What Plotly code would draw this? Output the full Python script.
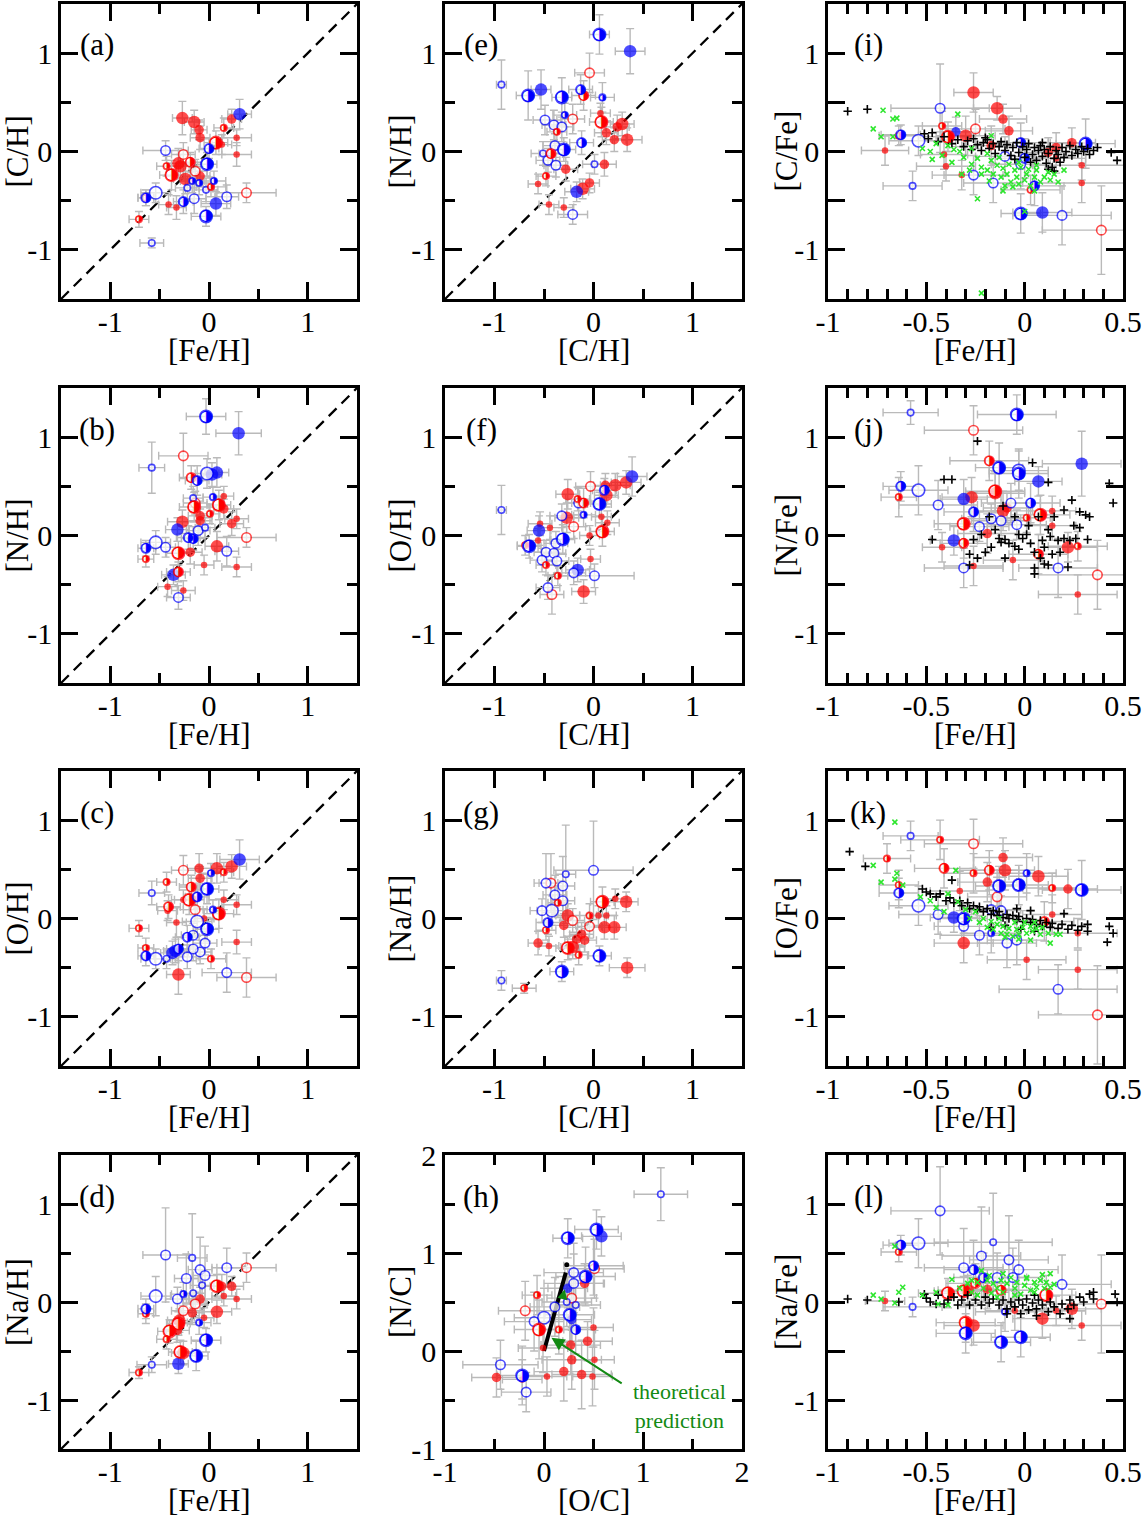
import plotly.graph_objects as go

# ---------------- data: (x, y, err_x, err_y, group, size-class) ----------------
# groups: R*/B* = red/blue sample; *F filled, *O open, *H half-filled
PANEL_A = [
    (0.31, 0.38, 0.12, 0.15, 'BF', 3), (-0.27, 0.34, 0.10, 0.17, 'RF', 3), (-0.15, 0.30, 0.10, 0.12, 'RF', 3),
    (-0.10, 0.22, 0.08, 0.10, 'RF', 2), (0.23, 0.33, 0.10, 0.10, 'RF', 2), (0.15, 0.24, 0.10, 0.10, 'RH', 1),
    (-0.09, 0.14, 0.10, 0.12, 'RF', 2), (0.07, 0.09, 0.12, 0.12, 'RH', 3), (0.13, 0.07, 0.10, 0.10, 'RF', 1),
    (0.28, 0.14, 0.15, 0.08, 'RF', 1), (0.00, 0.03, 0.10, 0.10, 'BH', 2), (-0.44, 0.01, 0.23, 0.10, 'BO', 2),
    (-0.26, -0.03, 0.12, 0.12, 'RO', 2), (0.28, -0.03, 0.15, 0.12, 'RF', 1), (-0.31, -0.12, 0.12, 0.15, 'RF', 3),
    (-0.29, -0.15, 0.12, 0.12, 'RF', 3), (-0.19, -0.11, 0.12, 0.10, 'RH', 2), (-0.02, -0.13, 0.10, 0.12, 'BH', 3),
    (-0.43, -0.15, 0.10, 0.10, 'RH', 1), (-0.38, -0.24, 0.12, 0.15, 'RH', 3), (-0.14, -0.20, 0.12, 0.12, 'RO', 2),
    (-0.09, -0.25, 0.10, 0.10, 'RF', 2), (-0.24, -0.28, 0.12, 0.15, 'RF', 3), (-0.17, -0.30, 0.12, 0.12, 'BH', 1),
    (-0.22, -0.37, 0.12, 0.12, 'BO', 1), (-0.10, -0.32, 0.12, 0.12, 'BH', 1), (-0.03, -0.39, 0.12, 0.12, 'BO', 1),
    (0.05, -0.30, 0.12, 0.10, 'BH', 1), (0.02, -0.36, 0.15, 0.10, 'RH', 1), (-0.54, -0.42, 0.15, 0.10, 'BO', 3),
    (-0.64, -0.47, 0.08, 0.08, 'BH', 2), (-0.64, -0.47, 0.08, 0.08, 'RH', 1), (-0.26, -0.51, 0.10, 0.12, 'BH', 2),
    (-0.15, -0.48, 0.12, 0.15, 'BO', 2), (-0.41, -0.54, 0.10, 0.10, 'RF', 1), (-0.33, -0.57, 0.10, 0.12, 'RF', 1),
    (0.07, -0.53, 0.15, 0.12, 'BF', 3), (0.18, -0.46, 0.12, 0.12, 'BO', 2), (0.38, -0.42, 0.30, 0.10, 'RO', 2),
    (-0.03, -0.66, 0.15, 0.10, 'BH', 3), (-0.71, -0.69, 0.10, 0.08, 'RH', 1), (-0.58, -0.93, 0.12, 0.05, 'BO', 1),
]
PANEL_B = [
    (-0.03, 1.21, 0.20, 0.18, 'BH', 3), (0.30, 1.04, 0.23, 0.22, 'BF', 3), (-0.26, 0.81, 0.25, 0.23, 'RO', 2),
    (-0.58, 0.69, 0.13, 0.26, 'BO', 1), (0.08, 0.64, 0.12, 0.15, 'BF', 3), (-0.02, 0.63, 0.12, 0.15, 'BO', 3),
    (0.03, 0.62, 0.10, 0.12, 'BF', 3), (-0.12, 0.56, 0.12, 0.15, 'BH', 2), (-0.18, 0.59, 0.12, 0.12, 'RH', 2),
    (0.04, 0.39, 0.10, 0.10, 'BH', 1), (0.15, 0.40, 0.10, 0.10, 'RF', 1), (-0.16, 0.38, 0.10, 0.12, 'BO', 1),
    (-0.14, 0.33, 0.12, 0.12, 'RO', 2), (-0.15, 0.29, 0.15, 0.15, 'RH', 3), (0.10, 0.31, 0.12, 0.15, 'RH', 3),
    (0.15, 0.27, 0.10, 0.10, 'RF', 2), (-0.09, 0.20, 0.12, 0.15, 'RF', 2), (0.01, 0.22, 0.10, 0.10, 'RH', 1),
    (-0.09, 0.15, 0.12, 0.12, 'RF', 2), (-0.27, 0.14, 0.15, 0.12, 'RF', 3), (0.23, 0.12, 0.12, 0.12, 'RF', 2),
    (0.28, 0.17, 0.12, 0.10, 'RF', 1), (-0.32, 0.06, 0.12, 0.12, 'BF', 3), (-0.11, 0.05, 0.12, 0.15, 'BO', 2),
    (-0.04, 0.08, 0.10, 0.10, 'BO', 1), (-0.21, -0.02, 0.12, 0.12, 'BH', 2), (-0.16, -0.03, 0.12, 0.12, 'BH', 2),
    (0.38, -0.02, 0.30, 0.10, 'RO', 2), (-0.54, -0.07, 0.15, 0.12, 'BO', 3), (-0.44, -0.12, 0.10, 0.10, 'BO', 2),
    (-0.64, -0.13, 0.08, 0.08, 'BH', 2), (0.08, -0.11, 0.12, 0.15, 'RF', 3), (0.18, -0.16, 0.12, 0.15, 'BO', 2),
    (-0.31, -0.18, 0.12, 0.12, 'RH', 3), (-0.19, -0.17, 0.12, 0.12, 'RF', 2), (-0.64, -0.24, 0.08, 0.08, 'RH', 1),
    (-0.05, -0.30, 0.10, 0.10, 'RF', 1), (0.28, -0.32, 0.15, 0.10, 'RF', 1), (-0.31, -0.37, 0.12, 0.10, 'RH', 2),
    (-0.36, -0.40, 0.12, 0.10, 'BF', 3), (-0.42, -0.52, 0.10, 0.10, 'RF', 1), (-0.26, -0.56, 0.12, 0.10, 'RF', 1),
    (-0.31, -0.63, 0.12, 0.12, 'BO', 2),
]
PANEL_C = [
    (0.31, 0.60, 0.20, 0.20, 'BF', 3), (0.23, 0.53, 0.15, 0.12, 'RF', 3), (0.08, 0.51, 0.15, 0.15, 'RF', 3),
    (-0.10, 0.51, 0.12, 0.15, 'RF', 2), (-0.26, 0.49, 0.12, 0.15, 'RO', 2), (0.02, 0.46, 0.10, 0.10, 'BH', 1),
    (0.15, 0.47, 0.10, 0.10, 'RH', 1), (-0.09, 0.41, 0.12, 0.12, 'RF', 2), (-0.43, 0.37, 0.10, 0.10, 'RH', 1),
    (-0.18, 0.32, 0.12, 0.12, 'RH', 2), (-0.02, 0.30, 0.12, 0.15, 'BH', 3), (-0.58, 0.26, 0.13, 0.12, 'BO', 1),
    (-0.12, 0.22, 0.12, 0.12, 'BH', 2), (-0.26, 0.19, 0.12, 0.10, 'RF', 1), (-0.20, 0.19, 0.15, 0.15, 'RH', 3),
    (0.15, 0.19, 0.15, 0.10, 'RF', 1), (0.28, 0.14, 0.15, 0.10, 'RF', 1), (-0.41, 0.12, 0.12, 0.12, 'RH', 2),
    (-0.42, 0.08, 0.10, 0.10, 'RF', 1), (-0.14, 0.09, 0.12, 0.12, 'RO', 2), (0.04, 0.09, 0.10, 0.10, 'BH', 1),
    (0.10, 0.05, 0.15, 0.15, 'RH', 3), (-0.05, 0.00, 0.10, 0.10, 'RF', 1), (-0.12, -0.03, 0.15, 0.15, 'BO', 3),
    (-0.33, -0.04, 0.10, 0.15, 'RF', 1), (-0.71, -0.10, 0.10, 0.08, 'RH', 1), (-0.02, -0.11, 0.12, 0.12, 'BH', 3),
    (-0.22, -0.19, 0.12, 0.12, 'BH', 2), (-0.16, -0.17, 0.12, 0.12, 'BO', 2), (0.28, -0.24, 0.15, 0.12, 'RF', 1),
    (-0.04, -0.25, 0.12, 0.12, 'BO', 2), (-0.64, -0.30, 0.08, 0.10, 'RH', 1), (-0.34, -0.33, 0.12, 0.12, 'BF', 3),
    (-0.37, -0.35, 0.12, 0.12, 'BF', 3), (-0.31, -0.31, 0.12, 0.12, 'BH', 2), (-0.09, -0.34, 0.12, 0.12, 'BO', 2),
    (-0.16, -0.31, 0.12, 0.12, 'BO', 2), (-0.54, -0.41, 0.15, 0.10, 'BO', 3), (-0.64, -0.38, 0.08, 0.10, 'BH', 2),
    (-0.22, -0.39, 0.12, 0.12, 'BO', 2), (-0.43, -0.41, 0.12, 0.10, 'BO', 1), (0.02, -0.41, 0.15, 0.10, 'RH', 1),
    (0.18, -0.55, 0.25, 0.20, 'BO', 2), (-0.31, -0.57, 0.12, 0.20, 'RF', 3), (0.38, -0.60, 0.30, 0.20, 'RO', 2),
]
PANEL_D = [
    (-0.44, 0.48, 0.23, 0.48, 'BO', 2), (-0.17, 0.45, 0.15, 0.45, 'BO', 1), (0.38, 0.35, 0.30, 0.15, 'RO', 2),
    (0.18, 0.35, 0.15, 0.20, 'BO', 2), (-0.09, 0.33, 0.12, 0.33, 'BO', 2), (-0.04, 0.27, 0.12, 0.30, 'BO', 2),
    (-0.23, 0.24, 0.12, 0.25, 'BO', 2), (-0.07, 0.17, 0.12, 0.15, 'BO', 1), (0.08, 0.16, 0.15, 0.12, 'RH', 3),
    (0.13, 0.16, 0.12, 0.12, 'RF', 2), (0.23, 0.16, 0.12, 0.10, 'RF', 2), (0.15, 0.06, 0.12, 0.10, 'RF', 1),
    (0.28, 0.03, 0.15, 0.10, 'RF', 1), (-0.54, 0.06, 0.15, 0.20, 'BO', 3), (-0.32, 0.03, 0.12, 0.12, 'BO', 2),
    (-0.26, 0.08, 0.12, 0.12, 'BH', 1), (-0.16, 0.09, 0.12, 0.15, 'BO', 1), (-0.09, 0.03, 0.12, 0.12, 'RF', 2),
    (-0.14, -0.02, 0.12, 0.12, 'RO', 2), (-0.64, -0.07, 0.08, 0.10, 'BH', 2), (-0.64, -0.12, 0.08, 0.10, 'RH', 1),
    (-0.26, -0.09, 0.12, 0.12, 'RO', 2), (-0.17, -0.11, 0.12, 0.12, 'RF', 2), (0.08, -0.10, 0.15, 0.12, 'RF', 3),
    (-0.05, -0.16, 0.10, 0.10, 'RF', 1), (-0.10, -0.21, 0.12, 0.12, 'BH', 1), (-0.30, -0.19, 0.12, 0.12, 'RF', 3),
    (-0.31, -0.22, 0.12, 0.12, 'RH', 3), (-0.40, -0.30, 0.12, 0.12, 'RH', 3), (-0.32, -0.29, 0.12, 0.12, 'RF', 2),
    (-0.43, -0.38, 0.10, 0.10, 'RH', 1), (-0.03, -0.39, 0.15, 0.12, 'BH', 3), (-0.29, -0.51, 0.12, 0.12, 'RH', 3),
    (-0.26, -0.52, 0.12, 0.12, 'RF', 3), (-0.13, -0.55, 0.12, 0.15, 'BH', 3), (-0.31, -0.63, 0.10, 0.10, 'BF', 3),
    (-0.58, -0.64, 0.15, 0.08, 'BO', 1), (-0.71, -0.72, 0.10, 0.06, 'RH', 1),
]
PANEL_E = [
    (0.06, 1.19, 0.10, 0.20, 'BH', 3), (0.37, 1.02, 0.15, 0.23, 'BF', 3), (-0.04, 0.80, 0.15, 0.20, 'RO', 2),
    (-0.93, 0.68, 0.05, 0.25, 'BO', 1), (-0.66, 0.57, 0.12, 0.25, 'BH', 3), (-0.53, 0.63, 0.10, 0.20, 'BF', 3),
    (-0.32, 0.55, 0.10, 0.20, 'BH', 3), (-0.13, 0.63, 0.12, 0.15, 'BH', 2), (-0.10, 0.57, 0.12, 0.15, 'RH', 2),
    (0.09, 0.55, 0.12, 0.15, 'BH', 1), (-0.29, 0.37, 0.12, 0.12, 'BH', 1), (-0.49, 0.32, 0.12, 0.15, 'BO', 2),
    (-0.40, 0.27, 0.12, 0.15, 'BO', 2), (-0.32, 0.25, 0.12, 0.15, 'BO', 2), (-0.21, 0.33, 0.12, 0.15, 'RO', 2),
    (0.07, 0.39, 0.10, 0.10, 'RF', 1), (0.08, 0.30, 0.12, 0.15, 'RH', 3), (0.29, 0.28, 0.12, 0.12, 'RF', 3),
    (0.24, 0.25, 0.12, 0.12, 'RF', 2), (0.13, 0.19, 0.12, 0.12, 'RF', 2), (0.21, 0.12, 0.12, 0.12, 'RF', 2),
    (0.34, 0.12, 0.15, 0.12, 'RF', 3), (-0.37, 0.20, 0.10, 0.12, 'RH', 1), (-0.12, 0.09, 0.12, 0.12, 'BH', 2),
    (-0.39, 0.06, 0.12, 0.12, 'BO', 2), (-0.30, 0.02, 0.12, 0.12, 'BH', 3), (-0.51, -0.02, 0.12, 0.12, 'BO', 1),
    (-0.43, -0.02, 0.12, 0.12, 'RH', 2), (-0.46, -0.09, 0.12, 0.12, 'BO', 2), (-0.38, -0.14, 0.12, 0.12, 'BO', 2),
    (0.01, -0.13, 0.12, 0.10, 'BO', 1), (0.11, -0.13, 0.12, 0.12, 'RF', 2), (-0.28, -0.18, 0.12, 0.12, 'RF', 2),
    (-0.48, -0.25, 0.10, 0.10, 'RH', 1), (-0.56, -0.33, 0.10, 0.10, 'RF', 1), (-0.04, -0.32, 0.10, 0.10, 'RF', 2),
    (-0.11, -0.38, 0.12, 0.10, 'RF', 3), (-0.17, -0.41, 0.12, 0.10, 'BF', 3), (-0.45, -0.54, 0.10, 0.10, 'RF', 1),
    (-0.30, -0.57, 0.10, 0.10, 'RF', 1), (-0.21, -0.64, 0.15, 0.10, 'BO', 2),
]
PANEL_F = [
    (0.39, 0.60, 0.15, 0.20, 'BF', 3), (0.33, 0.54, 0.15, 0.12, 'RF', 3), (0.22, 0.51, 0.15, 0.12, 'RF', 3),
    (0.12, 0.51, 0.12, 0.12, 'RF', 2), (-0.03, 0.50, 0.15, 0.15, 'RO', 2), (0.11, 0.46, 0.12, 0.12, 'BH', 2),
    (-0.26, 0.42, 0.12, 0.15, 'RF', 3), (0.13, 0.41, 0.12, 0.12, 'RF', 3), (-0.10, 0.33, 0.12, 0.15, 'RH', 2),
    (-0.16, 0.37, 0.12, 0.12, 'RH', 1), (-0.15, 0.33, 0.12, 0.15, 'BO', 2), (0.06, 0.32, 0.12, 0.12, 'BH', 3),
    (-0.10, 0.21, 0.12, 0.12, 'BH', 1), (-0.32, 0.20, 0.12, 0.12, 'BO', 2), (-0.27, 0.18, 0.12, 0.15, 'RF', 3),
    (0.08, 0.19, 0.10, 0.12, 'RF', 1), (-0.54, 0.12, 0.12, 0.12, 'RF', 1), (-0.44, 0.08, 0.12, 0.12, 'RF', 1),
    (-0.20, 0.09, 0.12, 0.12, 'RO', 2), (0.14, 0.13, 0.12, 0.12, 'RF', 1), (-0.55, 0.05, 0.12, 0.15, 'BF', 3),
    (0.09, 0.04, 0.12, 0.15, 'RH', 3), (-0.04, 0.00, 0.10, 0.10, 'RF', 1), (-0.31, -0.04, 0.12, 0.15, 'BH', 3),
    (-0.56, -0.05, 0.12, 0.12, 'RF', 1), (-0.38, -0.08, 0.12, 0.12, 'BO', 2), (-0.65, -0.11, 0.12, 0.12, 'BH', 3),
    (-0.69, -0.10, 0.08, 0.10, 'RH', 1), (-0.48, -0.17, 0.12, 0.12, 'BO', 2), (-0.40, -0.18, 0.12, 0.12, 'BO', 2),
    (-0.52, -0.25, 0.12, 0.12, 'BO', 2), (-0.37, -0.26, 0.12, 0.12, 'BO', 2), (-0.03, -0.24, 0.10, 0.10, 'RF', 1),
    (-0.48, -0.30, 0.10, 0.10, 'RH', 1), (-0.16, -0.35, 0.12, 0.12, 'BF', 3), (-0.20, -0.38, 0.12, 0.12, 'BO', 2),
    (0.01, -0.41, 0.40, 0.12, 'BO', 2), (-0.36, -0.41, 0.10, 0.10, 'RH', 1), (-0.46, -0.53, 0.12, 0.12, 'BO', 2),
    (-0.10, -0.57, 0.12, 0.12, 'RF', 3), (-0.42, -0.60, 0.12, 0.20, 'RO', 2), (-0.93, 0.26, 0.05, 0.25, 'BO', 1),
]
PANEL_G = [
    (0.00, 0.49, 0.40, 0.50, 'BO', 2), (-0.28, 0.45, 0.10, 0.50, 'BO', 1), (-0.48, 0.36, 0.12, 0.30, 'BO', 2),
    (-0.43, 0.36, 0.12, 0.30, 'RO', 2), (-0.31, 0.33, 0.12, 0.30, 'BO', 2), (-0.39, 0.24, 0.12, 0.20, 'BO', 2),
    (-0.31, 0.18, 0.12, 0.20, 'BO', 2), (-0.36, 0.16, 0.10, 0.15, 'RH', 1), (-0.42, 0.08, 0.15, 0.15, 'BO', 3),
    (-0.52, 0.08, 0.12, 0.12, 'BO', 2), (-0.46, -0.04, 0.12, 0.12, 'BH', 2), (-0.26, 0.03, 0.12, 0.12, 'RF', 3),
    (-0.21, -0.02, 0.12, 0.12, 'RO', 2), (-0.30, -0.07, 0.12, 0.12, 'RF', 2), (0.09, 0.17, 0.12, 0.15, 'RH', 3),
    (0.33, 0.17, 0.12, 0.10, 'RF', 3), (0.22, 0.20, 0.12, 0.10, 'RF', 1), (-0.04, 0.03, 0.10, 0.12, 'RH', 1),
    (0.05, 0.03, 0.10, 0.10, 'RF', 1), (0.13, 0.03, 0.10, 0.10, 'RF', 1), (-0.04, -0.08, 0.12, 0.12, 'RO', 2),
    (0.11, -0.09, 0.12, 0.12, 'RF', 3), (0.21, -0.09, 0.12, 0.12, 'RF', 3), (-0.48, -0.12, 0.10, 0.10, 'RH', 1),
    (-0.12, -0.16, 0.12, 0.12, 'RF', 2), (-0.17, -0.21, 0.12, 0.12, 'RF', 2), (-0.09, -0.22, 0.12, 0.12, 'RF', 2),
    (-0.56, -0.25, 0.10, 0.12, 'RF', 2), (-0.45, -0.28, 0.10, 0.10, 'RF', 1), (-0.26, -0.30, 0.12, 0.12, 'RH', 3),
    (-0.21, -0.29, 0.12, 0.12, 'RF', 3), (-0.15, -0.37, 0.10, 0.10, 'RH', 1), (0.06, -0.38, 0.12, 0.10, 'BH', 3),
    (-0.32, -0.54, 0.12, 0.10, 'BH', 3), (0.34, -0.50, 0.18, 0.10, 'RF', 3), (-0.93, -0.63, 0.05, 0.10, 'BO', 1),
    (-0.70, -0.71, 0.12, 0.05, 'RH', 1),
]
PANEL_H = [
    (1.18, 1.60, 0.27, 0.27, 'BO', 1), (0.53, 1.24, 0.22, 0.20, 'BH', 3), (0.58, 1.17, 0.20, 0.20, 'BF', 3),
    (0.24, 1.15, 0.15, 0.20, 'BH', 3), (0.50, 0.87, 0.30, 0.30, 'BH', 2), (0.51, 0.84, 0.30, 0.30, 'RO', 2),
    (0.30, 0.80, 0.30, 0.30, 'BO', 2), (0.42, 0.76, 0.30, 0.30, 'BH', 3), (0.41, 0.69, 0.20, 0.20, 'RF', 2),
    (0.30, 0.69, 0.30, 0.30, 'BO', 2), (0.24, 0.64, 0.20, 0.20, 'BF', 2), (-0.07, 0.57, 0.15, 0.20, 'RH', 1),
    (0.28, 0.54, 0.25, 0.30, 'RO', 2), (0.23, 0.50, 0.25, 0.25, 'BO', 1), (0.32, 0.47, 0.25, 0.25, 'BO', 1),
    (-0.19, 0.41, 0.27, 0.30, 'RO', 2), (0.11, 0.45, 0.25, 0.30, 'BO', 2), (0.26, 0.37, 0.25, 0.30, 'BH', 3),
    (0.28, 0.32, 0.20, 0.25, 'BF', 2), (0.00, 0.34, 0.30, 0.30, 'BO', 3), (-0.10, 0.30, 0.30, 0.30, 'BO', 2),
    (-0.05, 0.22, 0.25, 0.30, 'RH', 3), (0.15, 0.22, 0.20, 0.25, 'RH', 1), (0.32, 0.22, 0.20, 0.25, 'BH', 2),
    (0.50, 0.24, 0.20, 0.20, 'RF', 1), (0.44, 0.10, 0.25, 0.20, 'RF', 2), (0.27, 0.06, 0.30, 0.30, 'RF', 2),
    (-0.01, 0.03, 0.25, 0.25, 'RF', 1), (0.28, -0.09, 0.30, 0.30, 'RF', 2), (0.51, -0.09, 0.20, 0.30, 'RF', 1),
    (-0.44, -0.14, 0.38, 0.25, 'BO', 2), (-0.48, -0.27, 0.25, 0.20, 'RF', 2), (-0.22, -0.25, 0.25, 0.30, 'BH', 3),
    (-0.22, -0.29, 0.20, 0.20, 'RF', 1), (0.03, -0.26, 0.20, 0.20, 'RF', 1), (0.20, -0.21, 0.30, 0.30, 'RF', 2),
    (0.38, -0.24, 0.30, 0.35, 'RF', 2), (0.49, -0.26, 0.20, 0.30, 'RF', 1), (-0.18, -0.42, 0.25, 0.20, 'BO', 2),
]
PANEL_I = [
    (-0.26, 0.60, 0.10, 0.20, 'RF', 3), (-0.14, 0.44, 0.12, 0.12, 'RF', 3), (-0.43, 0.44, 0.25, 0.45, 'BO', 2),
    (-0.11, 0.33, 0.12, 0.15, 'RF', 2), (-0.08, 0.21, 0.12, 0.15, 'RF', 2), (-0.42, 0.26, 0.10, 0.15, 'RH', 1),
    (-0.25, 0.23, 0.15, 0.20, 'RO', 2), (-0.63, 0.17, 0.10, 0.10, 'BH', 2), (-0.64, 0.16, 0.10, 0.10, 'RH', 1),
    (-0.54, 0.11, 0.15, 0.15, 'BO', 3), (-0.35, 0.20, 0.12, 0.15, 'BF', 2), (-0.39, 0.15, 0.12, 0.15, 'RH', 3),
    (-0.30, 0.16, 0.15, 0.20, 'RF', 3), (-0.02, 0.09, 0.15, 0.20, 'BH', 2), (0.24, 0.09, 0.12, 0.15, 'RF', 2),
    (0.31, 0.08, 0.15, 0.25, 'BH', 3), (-0.71, 0.01, 0.12, 0.15, 'RF', 1), (-0.41, -0.03, 0.12, 0.15, 'RF', 1),
    (-0.40, -0.15, 0.15, 0.15, 'RF', 1), (-0.32, -0.24, 0.15, 0.15, 'RF', 1), (0.29, -0.14, 0.25, 0.15, 'RF', 1),
    (0.29, -0.32, 0.25, 0.20, 'RF', 1), (-0.57, -0.35, 0.15, 0.15, 'BO', 1), (-0.26, -0.24, 0.15, 0.20, 'BO', 2),
    (-0.16, -0.32, 0.15, 0.20, 'BO', 2), (-0.02, -0.13, 0.15, 0.25, 'BO', 2), (0.05, -0.35, 0.15, 0.20, 'BH', 2),
    (0.03, -0.39, 0.15, 0.15, 'RH', 1), (-0.02, -0.63, 0.10, 0.20, 'BH', 3), (0.09, -0.62, 0.15, 0.20, 'BF', 3),
    (0.19, -0.65, 0.25, 0.30, 'BO', 2), (0.39, -0.80, 0.30, 0.45, 'RO', 2), (-0.17, 0.06, 0.15, 0.20, 'RF', 2),
    (0.16, 0.04, 0.15, 0.15, 'RF', 2), (0.12, -0.01, 0.15, 0.15, 'RF', 2), (0.16, -0.07, 0.15, 0.15, 'RF', 1),
    (0.00, -0.07, 0.15, 0.20, 'BH', 2), (-0.10, -0.05, 0.15, 0.20, 'BO', 2),
]
PANEL_J = [
    (-0.58, 1.25, 0.14, 0.12, 'BO', 1), (-0.04, 1.23, 0.20, 0.20, 'BH', 3), (-0.26, 1.07, 0.25, 0.25, 'RO', 2),
    (0.29, 0.73, 0.20, 0.33, 'BF', 3), (-0.18, 0.76, 0.20, 0.20, 'RH', 2), (-0.13, 0.69, 0.12, 0.25, 'BH', 3),
    (-0.03, 0.63, 0.15, 0.25, 'BH', 3), (-0.03, 0.66, 0.15, 0.20, 'BO', 3), (0.07, 0.55, 0.12, 0.15, 'BF', 3),
    (-0.63, 0.50, 0.09, 0.15, 'BH', 2), (-0.64, 0.39, 0.09, 0.20, 'RH', 1), (-0.54, 0.46, 0.15, 0.25, 'BO', 3),
    (-0.31, 0.37, 0.12, 0.20, 'BF', 3), (-0.27, 0.39, 0.15, 0.20, 'RF', 3), (-0.15, 0.45, 0.15, 0.20, 'RH', 3),
    (-0.15, 0.43, 0.15, 0.20, 'RF', 3), (-0.44, 0.31, 0.20, 0.25, 'BO', 2), (0.03, 0.33, 0.15, 0.20, 'BH', 2),
    (-0.07, 0.33, 0.15, 0.20, 'BO', 2), (-0.11, 0.25, 0.15, 0.20, 'RF', 3), (-0.09, 0.28, 0.12, 0.15, 'RF', 2),
    (0.08, 0.21, 0.15, 0.20, 'RH', 3), (0.14, 0.25, 0.12, 0.15, 'RF', 1), (0.01, 0.18, 0.12, 0.15, 'RH', 1),
    (-0.26, 0.24, 0.15, 0.20, 'BH', 2), (-0.23, 0.09, 0.15, 0.15, 'BO', 2), (-0.17, 0.17, 0.15, 0.15, 'BO', 2),
    (-0.12, 0.15, 0.15, 0.15, 'BO', 2), (-0.04, 0.11, 0.15, 0.15, 'BO', 2), (-0.31, 0.12, 0.15, 0.20, 'RH', 3),
    (0.14, 0.10, 0.12, 0.15, 'RF', 1), (-0.19, 0.02, 0.15, 0.20, 'RF', 2), (-0.36, -0.05, 0.12, 0.15, 'BF', 3),
    (-0.31, -0.08, 0.12, 0.15, 'RH', 2), (-0.42, -0.12, 0.10, 0.15, 'RF', 1), (0.22, -0.12, 0.15, 0.15, 'RF', 3),
    (0.27, -0.11, 0.15, 0.15, 'RH', 1), (0.07, -0.19, 0.15, 0.20, 'RH', 2), (-0.06, -0.25, 0.15, 0.20, 'RF', 1),
    (-0.26, -0.31, 0.15, 0.20, 'RF', 1), (-0.31, -0.33, 0.20, 0.20, 'BO', 2), (0.17, -0.33, 0.20, 0.30, 'BO', 2),
    (0.37, -0.40, 0.30, 0.35, 'RO', 2), (0.27, -0.60, 0.20, 0.20, 'RF', 1),
]
PANEL_K = [
    (-0.58, 0.84, 0.14, 0.15, 'BO', 1), (-0.43, 0.80, 0.20, 0.20, 'RH', 1), (-0.26, 0.76, 0.25, 0.25, 'RO', 2),
    (-0.11, 0.62, 0.15, 0.20, 'RF', 2), (-0.70, 0.61, 0.12, 0.15, 'RH', 1), (-0.41, 0.51, 0.15, 0.20, 'RH', 2),
    (-0.18, 0.49, 0.15, 0.20, 'RH', 2), (-0.10, 0.49, 0.15, 0.20, 'RF', 3), (0.01, 0.46, 0.15, 0.20, 'BH', 1),
    (-0.26, 0.46, 0.15, 0.20, 'RH', 1), (0.07, 0.43, 0.15, 0.20, 'RF', 3), (-0.19, 0.37, 0.15, 0.20, 'RF', 2),
    (-0.13, 0.33, 0.12, 0.20, 'BH', 3), (-0.03, 0.34, 0.15, 0.20, 'BH', 3), (-0.64, 0.34, 0.10, 0.15, 'RH', 1),
    (-0.64, 0.26, 0.10, 0.15, 'BH', 2), (0.22, 0.30, 0.15, 0.20, 'RF', 2), (0.29, 0.29, 0.20, 0.30, 'BH', 3),
    (0.14, 0.31, 0.15, 0.15, 'RH', 1), (-0.33, 0.28, 0.15, 0.20, 'RF', 1), (-0.14, 0.22, 0.15, 0.20, 'RO', 2),
    (-0.54, 0.13, 0.15, 0.20, 'BO', 3), (-0.44, 0.04, 0.20, 0.20, 'BO', 2), (-0.36, 0.01, 0.12, 0.15, 'BF', 3),
    (-0.31, 0.00, 0.12, 0.15, 'BH', 3), (-0.17, 0.09, 0.15, 0.15, 'BO', 2), (-0.12, 0.08, 0.15, 0.15, 'BO', 2),
    (-0.31, -0.08, 0.15, 0.20, 'BO', 2), (-0.23, -0.17, 0.20, 0.20, 'BO', 2), (-0.09, -0.25, 0.15, 0.25, 'BO', 2),
    (-0.04, -0.22, 0.15, 0.25, 'BO', 2), (-0.17, -0.15, 0.15, 0.20, 'BH', 1), (-0.31, -0.25, 0.15, 0.20, 'RF', 3),
    (0.14, 0.04, 0.15, 0.20, 'RF', 1), (0.27, -0.15, 0.20, 0.15, 'RF', 1), (0.01, -0.42, 0.20, 0.20, 'RF', 1),
    (0.27, -0.52, 0.20, 0.20, 'RF', 1), (0.17, -0.72, 0.30, 0.25, 'BO', 2), (0.37, -0.98, 0.30, 0.50, 'RO', 2),
    (0.10, -0.03, 0.15, 0.20, 'RH', 2),
]
PANEL_L = [
    (-0.43, 0.93, 0.25, 0.45, 'BO', 2), (-0.54, 0.60, 0.15, 0.25, 'BO', 3), (-0.63, 0.58, 0.09, 0.10, 'BH', 2),
    (-0.64, 0.51, 0.09, 0.10, 'RH', 1), (-0.16, 0.61, 0.30, 0.50, 'BO', 1), (-0.22, 0.47, 0.20, 0.50, 'BO', 2),
    (-0.08, 0.43, 0.20, 0.45, 'BO', 2), (-0.31, 0.35, 0.20, 0.40, 'BO', 2), (-0.26, 0.33, 0.15, 0.30, 'BH', 2),
    (-0.03, 0.33, 0.20, 0.30, 'BO', 2), (-0.21, 0.25, 0.15, 0.25, 'BH', 2), (-0.14, 0.25, 0.15, 0.25, 'BO', 2),
    (-0.06, 0.25, 0.15, 0.30, 'BO', 2), (0.19, 0.18, 0.25, 0.30, 'BO', 2), (-0.25, 0.19, 0.15, 0.20, 'RH', 2),
    (-0.39, 0.09, 0.15, 0.15, 'RH', 3), (-0.31, 0.11, 0.15, 0.15, 'RH', 3), (-0.29, 0.12, 0.15, 0.15, 'RF', 3),
    (-0.19, 0.13, 0.15, 0.20, 'RF', 2), (-0.12, 0.12, 0.15, 0.20, 'RH', 2), (0.11, 0.07, 0.15, 0.20, 'RH', 3),
    (-0.71, 0.01, 0.10, 0.10, 'RF', 1), (-0.57, -0.05, 0.15, 0.10, 'BO', 1), (0.39, -0.02, 0.30, 0.50, 'RO', 2),
    (0.24, -0.07, 0.15, 0.20, 'RF', 3), (0.16, -0.09, 0.15, 0.15, 'RF', 1), (-0.05, -0.09, 0.15, 0.20, 'RF', 1),
    (0.09, -0.17, 0.15, 0.20, 'RF', 3), (0.29, -0.24, 0.20, 0.15, 'RF', 1), (-0.30, -0.21, 0.15, 0.20, 'RH', 3),
    (-0.26, -0.24, 0.15, 0.20, 'RF', 3), (-0.30, -0.32, 0.15, 0.20, 'BH', 3), (-0.12, -0.41, 0.15, 0.20, 'BH', 3),
    (-0.02, -0.36, 0.15, 0.20, 'BH', 3), (-0.10, -0.10, 0.15, 0.20, 'BH', 1),
]

# comparison samples (black '+', green 'x') in the [X/Fe] panels
BLACK_I = [(-0.90, 0.41), (-0.80, 0.43), (-0.51, 0.18), (-0.49, 0.13), (-0.47, 0.19), (-0.44, 0.10), (-0.41, 0.15),
           (-0.37, 0.08), (-0.34, 0.12), (-0.31, 0.05), (-0.29, 0.11), (-0.27, 0.02), (-0.26, 0.13), (-0.24, 0.07),
           (-0.22, 0.01), (-0.21, 0.09), (-0.19, 0.12), (-0.18, 0.03), (-0.16, 0.08), (-0.15, -0.02), (-0.13, 0.05),
           (-0.12, 0.10), (-0.10, 0.01), (-0.09, 0.07), (-0.07, -0.04), (-0.06, 0.04), (-0.04, 0.09), (-0.03, -0.01),
           (-0.01, 0.05), (0.00, -0.06), (0.01, 0.02), (0.02, 0.08), (0.04, -0.03), (0.05, 0.04), (0.06, -0.09),
           (0.07, 0.01), (0.08, 0.06), (0.09, -0.05), (0.10, 0.02), (0.11, -0.12), (0.12, -0.02), (0.13, 0.05),
           (0.14, -0.16), (0.15, -0.07), (0.16, 0.01), (0.17, -0.03), (0.19, 0.04), (0.20, -0.06), (0.21, 0.00),
           (0.23, 0.06), (0.24, -0.04), (0.26, 0.02), (0.27, -0.02), (0.29, 0.05), (0.30, 0.00), (0.32, 0.03),
           (0.33, -0.03), (0.35, 0.01), (0.37, 0.04), (0.44, -0.01), (0.47, -0.09), (0.12, -0.18), (0.15, -0.20),
           (-0.05, -0.08), (0.03, -0.11), (-0.20, 0.14), (0.09, 0.09), (0.18, -0.11)]
GREEN_I = [(-0.72, 0.42), (-0.67, 0.33), (-0.65, 0.34), (-0.77, 0.23), (-0.73, 0.15), (-0.67, 0.15), (-0.34, 0.38),
           (-0.52, 0.03), (-0.48, 0.00), (-0.45, 0.08), (-0.39, 0.06), (-0.37, -0.11), (-0.47, -0.08), (-0.33, 0.00),
           (-0.31, -0.06), (-0.27, -0.13), (-0.24, -0.07), (-0.22, -0.16), (-0.19, -0.19), (-0.17, -0.09),
           (-0.16, -0.23), (-0.14, -0.14), (-0.12, -0.26), (-0.11, -0.17), (-0.09, -0.23), (-0.07, -0.31),
           (-0.05, -0.19), (-0.04, -0.26), (-0.02, -0.16), (0.00, -0.29), (0.01, -0.23), (0.03, -0.35), (0.05, -0.26),
           (0.06, -0.19), (0.08, -0.31), (0.10, -0.26), (0.13, -0.29), (0.15, -0.23), (0.17, -0.31), (0.20, -0.19),
           (0.05, -0.40), (-0.11, -0.40), (-0.24, -0.48), (0.00, -0.61), (-0.22, -1.44), (-0.17, 0.16), (-0.27, 0.03),
           (-0.22, -0.23), (-0.18, -0.30), (-0.10, -0.35), (-0.06, -0.36), (-0.03, -0.33), (0.02, -0.18),
           (0.06, -0.14), (0.12, -0.21), (-0.03, -0.11), (-0.08, -0.13), (-0.13, -0.06), (-0.19, -0.02),
           (-0.28, -0.19), (-0.32, -0.23), (-0.42, -0.04), (-0.36, 0.02)]
BLACK_J = [(0.43, 0.53), (0.45, 0.33), (-0.41, 0.57), (-0.37, 0.57), (-0.24, 0.96), (0.04, 0.74), (0.12, 0.54),
           (0.24, 0.36), (0.28, 0.24), (0.31, 0.21), (0.20, 0.26), (-0.47, -0.04), (-0.26, -0.04), (-0.22, 0.01),
           (-0.24, -0.23), (-0.28, -0.30), (-0.13, -0.03), (-0.12, -0.07), (-0.10, -0.04), (-0.08, -0.08),
           (-0.05, -0.11), (-0.03, -0.14), (-0.01, -0.03), (0.01, 0.01), (0.03, -0.08), (0.05, -0.17), (0.08, -0.23),
           (0.10, -0.29), (0.12, -0.30), (0.05, -0.33), (0.05, -0.39), (0.12, 0.06), (0.13, -0.01), (0.17, -0.05),
           (0.20, -0.03), (0.23, -0.05), (0.26, -0.03), (0.18, -0.17), (0.22, -0.32), (0.25, 0.10), (0.28, 0.08),
           (0.33, 0.19), (0.32, -0.04), (-0.03, 0.01), (-0.15, 0.06), (-0.18, 0.19), (-0.11, 0.30), (-0.05, 0.19),
           (0.02, 0.10), (0.07, 0.19), (0.15, 0.19), (-0.28, -0.19), (-0.20, -0.17), (-0.17, -0.12), (-0.10, -0.23),
           (0.09, -0.05), (0.14, -0.19), (0.10, -0.12)]
BLACK_K = [(-0.89, 0.68), (-0.81, 0.53), (-0.52, 0.30), (-0.50, 0.27), (-0.48, 0.25), (-0.45, 0.22), (-0.43, 0.25),
           (-0.40, 0.18), (-0.38, 0.21), (-0.36, 0.16), (-0.33, 0.18), (-0.32, 0.13), (-0.29, 0.16), (-0.28, 0.10),
           (-0.26, 0.13), (-0.24, 0.09), (-0.23, 0.12), (-0.21, 0.07), (-0.19, 0.10), (-0.17, 0.04), (-0.16, 0.08),
           (-0.14, 0.03), (-0.13, 0.07), (-0.11, 0.01), (-0.09, 0.04), (-0.08, 0.00), (-0.06, 0.03), (-0.04, -0.01),
           (-0.03, 0.02), (-0.01, -0.03), (0.01, 0.00), (0.03, -0.04), (0.04, -0.01), (0.06, -0.06), (0.08, -0.02),
           (0.09, -0.08), (0.11, -0.04), (0.13, -0.09), (0.14, -0.05), (0.17, -0.10), (0.19, -0.06), (0.22, -0.11),
           (0.24, -0.07), (0.27, -0.12), (0.29, -0.08), (0.32, -0.06), (0.32, -0.13), (0.43, -0.08), (0.45, -0.15),
           (0.42, -0.24), (0.20, 0.05), (-0.04, 0.10), (0.03, 0.08), (-0.37, 0.39), (-0.17, -0.09), (-0.10, -0.07),
           (-0.02, -0.11), (0.05, -0.13)]
GREEN_K = [(-0.66, 0.98), (-0.77, 0.54), (-0.73, 0.37), (-0.66, 0.40), (-0.65, 0.46), (-0.62, 0.34), (-0.53, 0.22),
           (-0.48, 0.18), (-0.45, 0.11), (-0.41, 0.07), (-0.39, 0.25), (-0.35, 0.49), (-0.34, 0.17), (-0.30, 0.09),
           (-0.28, 0.00), (-0.25, 0.07), (-0.23, -0.04), (-0.21, 0.00), (-0.19, -0.09), (-0.17, -0.03),
           (-0.16, -0.11), (-0.14, -0.06), (-0.12, -0.15), (-0.11, -0.08), (-0.09, -0.16), (-0.08, -0.10),
           (-0.06, -0.18), (-0.04, -0.11), (-0.03, -0.16), (-0.01, -0.09), (0.01, -0.15), (0.03, -0.08), (0.04, -0.13),
           (0.06, -0.10), (0.08, -0.16), (0.09, -0.09), (0.12, -0.15), (0.13, -0.25), (0.16, -0.16), (0.18, -0.16),
           (0.03, -0.22), (-0.10, -0.19), (-0.05, -0.04), (0.00, -0.04), (0.05, -0.04), (-0.13, 0.00), (-0.03, -0.21)]
BLACK_L = [(-0.90, 0.03), (-0.80, 0.02), (-0.64, 0.00), (-0.51, 0.08), (-0.50, 0.04), (-0.48, 0.00), (-0.45, -0.02),
           (-0.44, 0.07), (-0.41, -0.02), (-0.39, 0.02), (-0.36, 0.05), (-0.34, -0.03), (-0.32, 0.02), (-0.29, 0.07),
           (-0.28, -0.03), (-0.25, 0.02), (-0.22, -0.03), (-0.20, 0.05), (-0.18, -0.01), (-0.16, 0.03),
           (-0.13, -0.03), (-0.11, 0.02), (-0.09, -0.07), (-0.07, 0.00), (-0.05, -0.05), (-0.03, 0.02),
           (-0.01, -0.03), (0.01, 0.03), (0.02, -0.08), (0.04, -0.01), (0.06, -0.07), (0.07, 0.02), (0.09, -0.03),
           (0.12, -0.10), (0.13, 0.00), (0.15, -0.05), (0.18, -0.12), (0.19, -0.02), (0.22, -0.07), (0.23, 0.02),
           (0.25, -0.03), (0.28, 0.05), (0.30, 0.00), (0.33, 0.08), (0.35, 0.10), (0.35, 0.03), (0.46, 0.08),
           (0.47, 0.00), (0.23, -0.17), (0.06, -0.14), (-0.02, -0.12), (-0.09, -0.12), (0.05, 0.07)]
GREEN_L = [(-0.77, 0.07), (-0.66, 0.57), (-0.64, 0.10), (-0.62, 0.15), (-0.66, -0.01), (-0.73, 0.03), (-0.52, 0.07),
           (-0.45, 0.10), (-0.44, -0.02), (-0.39, -0.03), (-0.37, 0.23), (-0.33, 0.14), (-0.29, 0.19), (-0.27, 0.10),
           (-0.24, 0.20), (-0.22, 0.32), (-0.21, 0.14), (-0.19, 0.22), (-0.17, 0.09), (-0.16, 0.19), (-0.14, 0.14),
           (-0.12, 0.22), (-0.11, 0.10), (-0.09, 0.19), (-0.07, 0.25), (-0.05, 0.14), (-0.04, 0.20), (-0.02, 0.08),
           (0.00, 0.17), (0.01, 0.24), (0.03, 0.12), (0.05, 0.20), (0.06, 0.15), (0.08, 0.22), (0.10, 0.14),
           (0.11, 0.20), (0.13, 0.29), (0.15, 0.18), (0.13, 0.15), (0.09, 0.28), (0.01, 0.25), (-0.11, 0.29),
           (-0.18, 0.27), (-0.27, 0.22), (-0.24, 0.07), (-0.14, 0.05), (-0.05, 0.07), (0.05, 0.10)]

ONE_TO_ONE = [-1.5, 1.5]
THEORY_OC = [0.0, 0.22]
THEORY_NC = [0.0, 0.80]
THEORY_END = (0.23, 0.88)

# ---------------- styling ----------------
W, H = 1146, 1519
FONT = 'Liberation Serif'
RED, BLUE, GREEN, GREY = '#ff0000', '#0000ff', '#2ee62e', '#bababa'
SIZE = {1: 6.5, 2: 9.5, 3: 12.5}
COLS = [(61, 357), (445, 742), (828, 1123)]
ROWS = [(4, 299), (388, 683), (771, 1066), (1155, 1449)]
YTITLE_X = [17, 400, 786]

PANELS = [
    # key, row, col, data, xlabel, ylabel, axis kind, black, green
    ('a', 0, 0, PANEL_A, '[Fe/H]', '[C/H]', 'sq', None, None),
    ('b', 1, 0, PANEL_B, '[Fe/H]', '[N/H]', 'sq', None, None),
    ('c', 2, 0, PANEL_C, '[Fe/H]', '[O/H]', 'sq', None, None),
    ('d', 3, 0, PANEL_D, '[Fe/H]', '[Na/H]', 'sq', None, None),
    ('e', 0, 1, PANEL_E, '[C/H]', '[N/H]', 'sq', None, None),
    ('f', 1, 1, PANEL_F, '[C/H]', '[O/H]', 'sq', None, None),
    ('g', 2, 1, PANEL_G, '[C/H]', '[Na/H]', 'sq', None, None),
    ('h', 3, 1, PANEL_H, '[O/C]', '[N/C]', 'h', None, None),
    ('i', 0, 2, PANEL_I, '[Fe/H]', '[C/Fe]', 'fe', BLACK_I, GREEN_I),
    ('j', 1, 2, PANEL_J, '[Fe/H]', '[N/Fe]', 'fe', BLACK_J, None),
    ('k', 2, 2, PANEL_K, '[Fe/H]', '[O/Fe]', 'fe', BLACK_K, GREEN_K),
    ('l', 3, 2, PANEL_L, '[Fe/H]', '[Na/Fe]', 'fe', BLACK_L, GREEN_L),
]


def base_axis():
    return dict(showline=True, linecolor='black', linewidth=2.5, mirror='allticks',
                ticks='inside', ticklen=17, tickwidth=2.5, tickcolor='black', automargin=False,
                showgrid=False, zeroline=False, fixedrange=True,
                tickfont=dict(family=FONT, size=30, color='black'), tickmode='array')


def minor(vals):
    return dict(ticks='inside', ticklen=10, tickwidth=2.5, tickcolor='black',
                tickmode='array', tickvals=vals, showgrid=False)


def axes_for(kind):
    xa, ya = base_axis(), base_axis()
    xa.update(ticklabelstandoff=-6)
    if kind == 'sq':
        for a in (xa, ya):
            a.update(range=[-1.5, 1.5], tickvals=[-1, 0, 1], ticktext=['-1', '0', '1'],
                     minor=minor([-0.5, 0.5]))
    elif kind == 'h':
        for a in (xa, ya):
            a.update(range=[-1, 2], tickvals=[-1, 0, 1, 2], ticktext=['-1', '0', '1', '2'],
                     minor=minor([-0.5, 0.5, 1.5]))
    else:
        xa.update(range=[-1.0, 0.5], tickvals=[-1, -0.5, 0, 0.5], ticktext=['-1', '-0.5', '0', '0.5'],
                  minor=minor([-0.9, -0.8, -0.7, -0.6, -0.4, -0.3, -0.2, -0.1, 0.1, 0.2, 0.3, 0.4]))
        ya.update(range=[-1.5, 1.5], tickvals=[-1.5, -1, -0.5, 0, 0.5, 1, 1.5],
                  ticktext=['', '-1', '', '0', '', '1', ''])
    return xa, ya


fig = go.Figure()
layout = dict(width=W, height=H, margin=dict(l=0, r=0, t=0, b=0, pad=0), paper_bgcolor='white',
              plot_bgcolor='white', showlegend=False, template='none',
              font=dict(family=FONT, color='black'))
annotations = []

for n, (key, r, c, data, xl, yl, kind, blk, grn) in enumerate(PANELS, start=1):
    L, R = COLS[c]
    T, B = ROWS[r]
    xa, ya = axes_for(kind)
    xname, yname = f'x{n}', f'y{n}'
    xa.update(domain=[L / W, R / W], anchor=yname)
    ya.update(domain=[1 - B / H, 1 - T / H], anchor=xname)
    layout[f'xaxis{n}'] = xa
    layout[f'yaxis{n}'] = ya
    common = dict(xaxis=xname, yaxis=yname, hoverinfo='skip', showlegend=False)

    if kind == 'sq':
        fig.add_trace(go.Scatter(x=ONE_TO_ONE, y=ONE_TO_ONE, mode='lines',
                                 line=dict(color='black', width=2.3, dash='11px,7px'), **common))

    xs = [d[0] for d in data]
    ys = [d[1] for d in data]
    fig.add_trace(go.Scatter(
        x=xs, y=ys, mode='markers', marker=dict(size=2, color='rgba(0,0,0,0)'),
        error_x=dict(type='data', array=[d[2] for d in data], color=GREY, thickness=1.4, width=4),
        error_y=dict(type='data', array=[d[3] for d in data], color=GREY, thickness=1.4, width=4),
        **common))

    if kind == 'h':
        fig.add_trace(go.Scatter(x=THEORY_OC, y=THEORY_NC, mode='lines',
                                 line=dict(color='black', width=4), **common))
        fig.add_trace(go.Scatter(x=[THEORY_END[0]], y=[THEORY_END[1]], mode='markers',
                                 marker=dict(size=5, color='black'), **common))

    for grp in ['RF', 'BF', 'RO', 'BO', 'RH', 'BH']:
        sub = [d for d in data if d[4] == grp]
        if not sub:
            continue
        col = RED if grp[0] == 'R' else BLUE
        sx = [d[0] for d in sub]
        sy = [d[1] for d in sub]
        sz = [SIZE[d[5]] for d in sub]
        if grp[1] == 'F':
            fig.add_trace(go.Scatter(x=sx, y=sy, mode='markers',
                                     marker=dict(size=sz, color=col, line=dict(width=0)), **common))
        else:
            fig.add_trace(go.Scatter(x=sx, y=sy, mode='markers',
                                     marker=dict(size=sz, color='white', line=dict(width=1.6, color=col)),
                                     **common))
            if grp[1] == 'H':
                fig.add_trace(go.Scatter(x=sx, y=sy, mode='text', text=['\u25D1'] * len(sx),
                                         textposition='middle center',
                                         textfont=dict(family='DejaVu Sans', size=[s * 1.3 for s in sz],
                                                       color=col), **common))

    if blk:
        fig.add_trace(go.Scatter(x=[p[0] for p in blk], y=[p[1] for p in blk], mode='markers',
                                 marker=dict(symbol='cross-thin', size=6, line=dict(width=1.6, color='black')),
                                 **common))
    if grn:
        fig.add_trace(go.Scatter(x=[p[0] for p in grn], y=[p[1] for p in grn], mode='markers',
                                 marker=dict(symbol='x-thin', size=5, line=dict(width=1.6, color=GREEN)),
                                 **common))

    # panel label
    annotations.append(dict(text=f'({key})', x=(L + (40 if c == 2 else 36)) / W, y=1 - (T + 41) / H,
                            xref='paper', yref='paper', showarrow=False, xanchor='center', yanchor='middle',
                            font=dict(family=FONT, size=31, color='black')))
    # axis titles
    annotations.append(dict(text=xl, x=(L + R) / 2 / W, y=1 - (B + 51) / H, xref='paper', yref='paper',
                            showarrow=False, xanchor='center', yanchor='middle',
                            font=dict(family=FONT, size=31, color='black')))
    annotations.append(dict(text=yl, x=YTITLE_X[c] / W, y=1 - (T + B) / 2 / H, xref='paper', yref='paper',
                            showarrow=False, xanchor='center', yanchor='middle', textangle=-90,
                            font=dict(family=FONT, size=31, color='black')))

    if kind == 'h':
        annotations.append(dict(text='', x=0.075, y=0.135, ax=0.80, ay=-0.34, xref=xname, yref=yname,
                                axref=xname, ayref=yname, showarrow=True, arrowhead=2, arrowsize=1.3,
                                arrowwidth=2, arrowcolor='#138a13'))
        annotations.append(dict(text='', x=0.21, y=0.63, ax=0.185, ay=0.53, xref=xname, yref=yname,
                                axref=xname, ayref=yname, showarrow=True, arrowhead=2, arrowsize=1.0,
                                arrowwidth=2, arrowcolor='#138a13'))
        annotations.append(dict(text='theoretical<br>prediction', x=1.37, y=-0.56, xref=xname, yref=yname,
                                showarrow=False, xanchor='center', yanchor='middle',
                                font=dict(family=FONT, size=22, color='#138a13')))

layout['annotations'] = annotations
fig.update_layout(**layout)
fig.write_html('out.html')
